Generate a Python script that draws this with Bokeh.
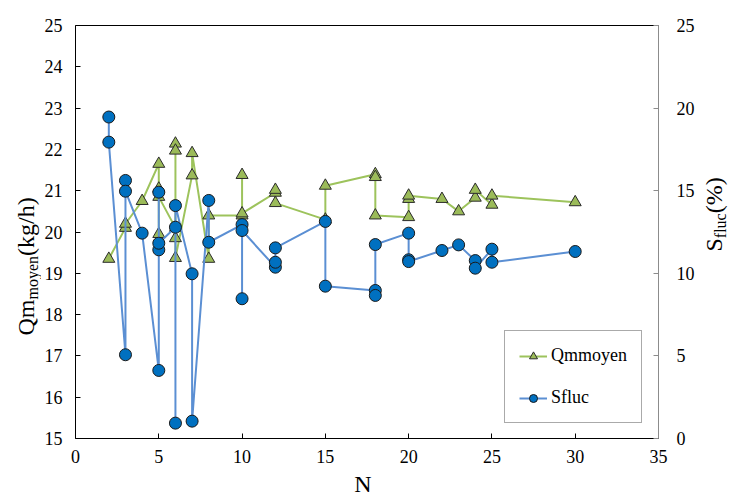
import numpy as np
from bokeh.plotting import figure
from bokeh.layouts import row, column
from bokeh.models import Range1d, LinearAxis, Legend, LegendItem, FixedTicker
from bokeh.core.properties import value
from bokeh.embed import file_html
from bokeh.resources import INLINE

# ---------------- data ----------------
green_n = [2, 3, 3, 4, 5, 5, 5, 5, 6, 6, 6, 6, 6, 7, 7, 8, 8, 10, 10, 10,
           12, 12, 12, 15, 15, 18, 18, 18, 20, 20, 20, 22, 23, 24, 24, 25, 25, 30]
green_q = [19.35, 20.1, 20.2, 20.75, 21.65, 21.05, 19.95, 20.85,
           20.1, 22.14, 21.97, 19.85, 19.37, 21.37, 21.91, 19.35, 20.4,
           20.4, 21.38, 20.45, 20.95, 21.02, 20.7, 20.3, 21.12,
           21.4, 21.33, 20.4, 20.36, 20.8, 20.88, 20.8, 20.5,
           20.83, 21.02, 20.66, 20.88, 20.72]

blue_n = [2, 2, 3, 3, 3, 4, 5, 5, 5, 5, 6, 6, 6, 7, 7, 8, 8, 10, 10, 10,
          12, 12, 12, 15, 15, 18, 18, 18, 20, 20, 20, 22, 23, 24, 24, 25, 25, 30]
blue_s = [19.46, 17.94, 5.07, 15.62, 14.97, 12.43, 4.12, 14.91, 11.42, 11.82,
          12.79, 0.93, 14.1, 9.97, 1.05, 14.41, 11.88, 12.95, 8.46, 12.59,
          10.37, 10.67, 11.54, 13.14, 9.22, 8.96, 8.66, 11.74,
          12.43, 10.82, 10.71, 11.38, 11.72, 10.77, 10.31, 11.46, 10.67, 11.32]

x_ticks = [0, 5, 10, 15, 20, 25, 30, 35]
left_ticks = [15, 16, 17, 18, 19, 20, 21, 22, 23, 24, 25]
right_ticks = [0, 5, 10, 15, 20, 25]

FONT = "'Liberation Serif', 'Times New Roman', serif"
TICK_SIZE = "18px"

# overall picture geometry (pixels)
W, H = 729, 498
LS = 41          # width of left title strip
RS = 700         # x where right title strip starts
BS = 470         # y where bottom title strip starts
FL, FR, FT, FB = 75, 658, 25, 438   # frame edges

MW = RS - LS
p = figure(width=MW, height=BS, output_backend="svg", toolbar_location=None,
           x_range=Range1d(0, 35), y_range=Range1d(15, 25),
           min_border_left=FL - LS, min_border_right=RS - FR, min_border_top=FT,
           min_border_bottom=BS - FB, x_axis_location=None, y_axis_location=None)
p.extra_y_ranges = {"right": Range1d(0, 25)}
p.xgrid.grid_line_color = None
p.ygrid.grid_line_color = None
p.outline_line_color = None
p.background_fill_color = "white"
p.border_fill_color = "white"


def style(ax, ticks, standoff, line_color="black"):
    ax.ticker = FixedTicker(ticks=ticks)
    ax.major_tick_in = 5
    ax.major_tick_out = 0
    ax.minor_tick_line_color = None
    ax.axis_line_color = line_color
    ax.axis_line_width = 1
    ax.major_tick_line_color = line_color
    ax.major_label_text_font = FONT
    ax.major_label_text_font_size = TICK_SIZE
    ax.major_label_text_color = "black"
    ax.major_label_standoff = standoff


xb = LinearAxis()
style(xb, x_ticks, 11)
p.add_layout(xb, "below")

yl = LinearAxis()
style(yl, left_ticks, 13)
p.add_layout(yl, "left")

yr = LinearAxis(y_range_name="right")
style(yr, right_ticks, 18, line_color="#8c8c8c")
p.add_layout(yr, "right")

xt = LinearAxis()
xt.ticker = FixedTicker(ticks=[])
xt.major_label_text_font_size = "0px"
xt.major_tick_line_color = None
xt.minor_tick_line_color = None
xt.axis_line_color = "black"
p.add_layout(xt, "above")

GREEN = "#9BBB59"
GREEN_LINE = "#9DC35C"
BLUE = "#0070C0"
BLUE_LINE = "#5B8FD3"

gl = p.line(green_n, green_q, line_color=GREEN_LINE, line_width=2)
gs = p.scatter(green_n, green_q, marker="triangle", size=12, fill_color=GREEN,
               line_color="#2b2b2b", line_width=1)
bl = p.line(blue_n, blue_s, line_color=BLUE_LINE, line_width=2, y_range_name="right")
bs = p.scatter(blue_n, blue_s, marker="circle", size=12, fill_color=BLUE,
               line_color="#1a1a1a", line_width=1, y_range_name="right")

legend = Legend(items=[LegendItem(label="Qmmoyen", renderers=[gl, gs]),
                       LegendItem(label="Sfluc", renderers=[bl, bs])],
                location=(429, 15), orientation="vertical")
legend.label_text_font = FONT
legend.label_text_font_size = "18px"
legend.label_text_color = "black"
legend.glyph_width = 28
legend.glyph_height = 20
legend.label_height = 20
legend.label_standoff = 4
legend.spacing = 21
legend.padding = 14
legend.margin = 0
legend.border_line_color = "#555555"
legend.border_line_width = 1
legend.background_fill_color = "white"
legend.background_fill_alpha = 1.0
p.add_layout(legend)


def strip(x0, x1, y0, y1):
    """A bare figure whose data coordinates are picture pixels."""
    s = figure(width=x1 - x0, height=y1 - y0, output_backend="svg",
               toolbar_location=None, x_range=Range1d(x0, x1),
               y_range=Range1d(y1, y0), min_border=0,
               x_axis_location=None, y_axis_location=None)
    s.xgrid.grid_line_color = None
    s.ygrid.grid_line_color = None
    s.outline_line_color = None
    s.background_fill_color = "white"
    s.border_fill_color = "white"
    return s


# the text glyph's anchor sits ~0.375 em above the drawn baseline
SHIFT = 0.375


def put(s, text, xp, yp, size, align="left", angle=np.pi / 2):
    # xp, yp: wanted baseline position in picture pixels
    if angle == 0:
        yp = yp - SHIFT * size
    else:
        xp = xp - SHIFT * size
    s.text(x=[xp], y=[yp], text=[text], angle=angle, text_font=value(FONT),
           text_font_size=f"{size}px", text_color="black", text_align=align,
           text_baseline="alphabetic")


TS = 24
SS = 16

# left title: Qm_moyen(kg/h)
left = strip(0, LS, 0, H)
y0 = 335.0
put(left, "Qm", 34, y0, TS)
y1 = y0 - 1.5 * TS
put(left, "moyen", 37.5, y1, SS)
y2 = y1 - 2.722 * SS
put(left, "(kg/h)", 34, y2, TS)

# right title: S_fluc (%)
right = strip(RS, W, 0, H)
r0 = 251.0
put(right, "S", 722, r0, TS)
r1 = r0 - 0.556 * TS
put(right, "fluc", 726, r1, SS)
r2 = r1 - 1.555 * SS
put(right, " (%)", 722, r2, TS)

# bottom title: N
bottom = strip(LS, RS, BS, H)
put(bottom, "N", 366, 492, TS, align="center", angle=0)

layout = row(left, column(p, bottom, spacing=0), right, spacing=0)

open("out.html", "w").write(file_html(layout, INLINE))
